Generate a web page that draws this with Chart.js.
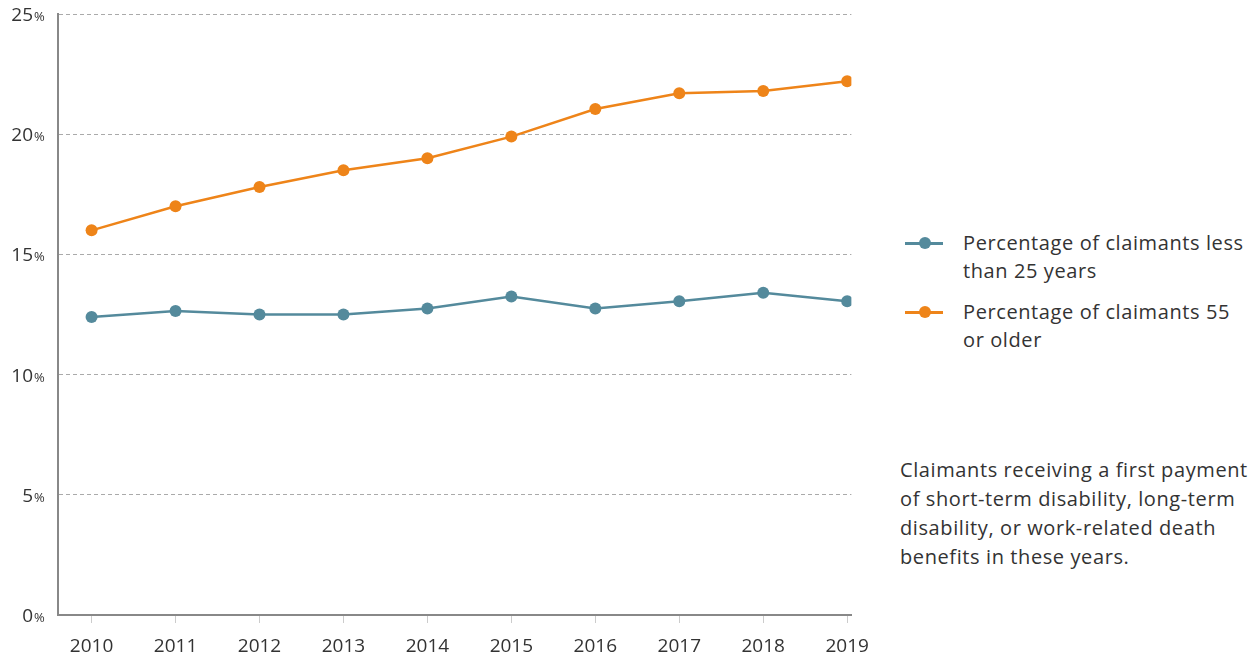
<!DOCTYPE html>
<html>
<head>
<meta charset="utf-8">
<script src="https://cdn.jsdelivr.net/npm/chart.js@4.4.1/dist/chart.umd.min.js"></script>
<style>
  body { margin: 0; background: #fff; font-family: "Open Sans", sans-serif; color: #333; }
  #wrap { position: relative; width: 1256px; height: 660px; overflow: hidden; }
  #chartBox { position: absolute; left: 0; top: 0; width: 881px; height: 660px; }
  .legend { position: absolute; left: 905px; top: 229px; font-size: 20px; line-height: 28px; letter-spacing: 0.6px; }
  .item { position: relative; padding-left: 58px; margin-bottom: 13px; width: 293px; }
  .swatch { position: absolute; left: 0; top: 13px; width: 38px; height: 2.5px; }
  .swatch span { position: absolute; left: 13.5px; top: -5px; width: 12px; height: 12px; border-radius: 50%; }
  .note { position: absolute; left: 900px; top: 455px; width: 354px; font-size: 20px; line-height: 29px; letter-spacing: 0.6px; }
</style>
</head>
<body>
<div id="wrap">
  <div id="chartBox"><canvas id="lineChart"></canvas></div>
  <div class="legend" id="legend"></div>
  <div class="note">Claimants receiving a first payment of short-term disability, long-term disability, or work-related death benefits in these years.</div>
</div>
<script>
const years = [2010, 2011, 2012, 2013, 2014, 2015, 2016, 2017, 2018, 2019];
const under25 = [12.4, 12.65, 12.5, 12.5, 12.75, 13.25, 12.75, 13.05, 13.4, 13.05];
const over55 = [16.0, 17.0, 17.8, 18.5, 19.0, 19.9, 21.05, 21.7, 21.8, 22.2];
const yTicks = [0, 5, 10, 15, 20, 25];
const seriesNames = ["Percentage of claimants less than 25 years", "Percentage of claimants 55 or older"];
const seriesColors = ["#548a9c", "#ee8419"];

function buildLegend() {
  const box = document.getElementById("legend");
  seriesNames.forEach((name, i) => {
    const item = document.createElement("div");
    item.className = "item";
    item.innerHTML = `<div class="swatch" style="background:${seriesColors[i]}"><span style="background:${seriesColors[i]}"></span></div>${name}`;
    box.appendChild(item);
  });
}

// y labels with a smaller percent sign, placed from the y scale
const percentLabels = {
  id: "percentLabels",
  afterDraw(chart) {
    const ctx = chart.ctx;
    const s = chart.scales.y;
    ctx.save();
    ctx.fillStyle = "#333";
    ctx.textBaseline = "alphabetic";
    yTicks.forEach(v => {
      const y = s.getPixelForValue(v) + 7;
      ctx.font = '19px "Open Sans"';
      ctx.textAlign = "right";
      ctx.fillText(String(v), 33, y);
      ctx.font = '13px "Open Sans"';
      ctx.textAlign = "left";
      ctx.fillText("%", 34, y);
    });
    ctx.restore();
  }
};

document.addEventListener("DOMContentLoaded", () => {
  buildLegend();

  const ctx = document.getElementById("lineChart").getContext("2d");
  new Chart(ctx, {
    type: "line",
    data: {
      datasets: [under25, over55].map((vals, i) => ({
        label: seriesNames[i],
        data: vals.map((v, j) => ({ x: years[j], y: v })),
        borderColor: seriesColors[i],
        backgroundColor: seriesColors[i],
        borderWidth: 2.5,
        pointRadius: 6,
        pointBorderWidth: 0,
        tension: 0
      }))
    },
    options: {
      responsive: true,
      maintainAspectRatio: false,
      animation: false,
      layout: { padding: { top: 14, right: 18, left: 0, bottom: 0 } },
      plugins: { legend: { display: false }, tooltip: { enabled: false } },
      scales: {
        x: {
          type: "linear",
          min: 2009.6,
          max: 2019.05,
          afterBuildTicks: (scale) => { scale.ticks = years.map(y => ({ value: y })); },
          afterFit: (scale) => { scale.height = 45; },
          grid: { drawOnChartArea: false, drawTicks: true, tickLength: 8, color: "#ccc" },
          border: { display: true, color: "#888", width: 2 },
          ticks: {
            color: "#333",
            font: { family: "Open Sans", size: 19 },
            padding: 12,
            maxRotation: 0,
            callback: (v) => String(v)
          }
        },
        y: {
          min: 0,
          max: 25,
          afterBuildTicks: (scale) => { scale.ticks = yTicks.map(v => ({ value: v })); },
          afterFit: (scale) => { scale.width = 58; },
          grid: { color: "#aaa", lineWidth: 1, drawTicks: false },
          border: { display: true, color: "#888", width: 2, dash: [4, 3] },
          ticks: { display: false }
        }
      }
    },
    plugins: [percentLabels]
  });
});
</script>
</body>
</html>
